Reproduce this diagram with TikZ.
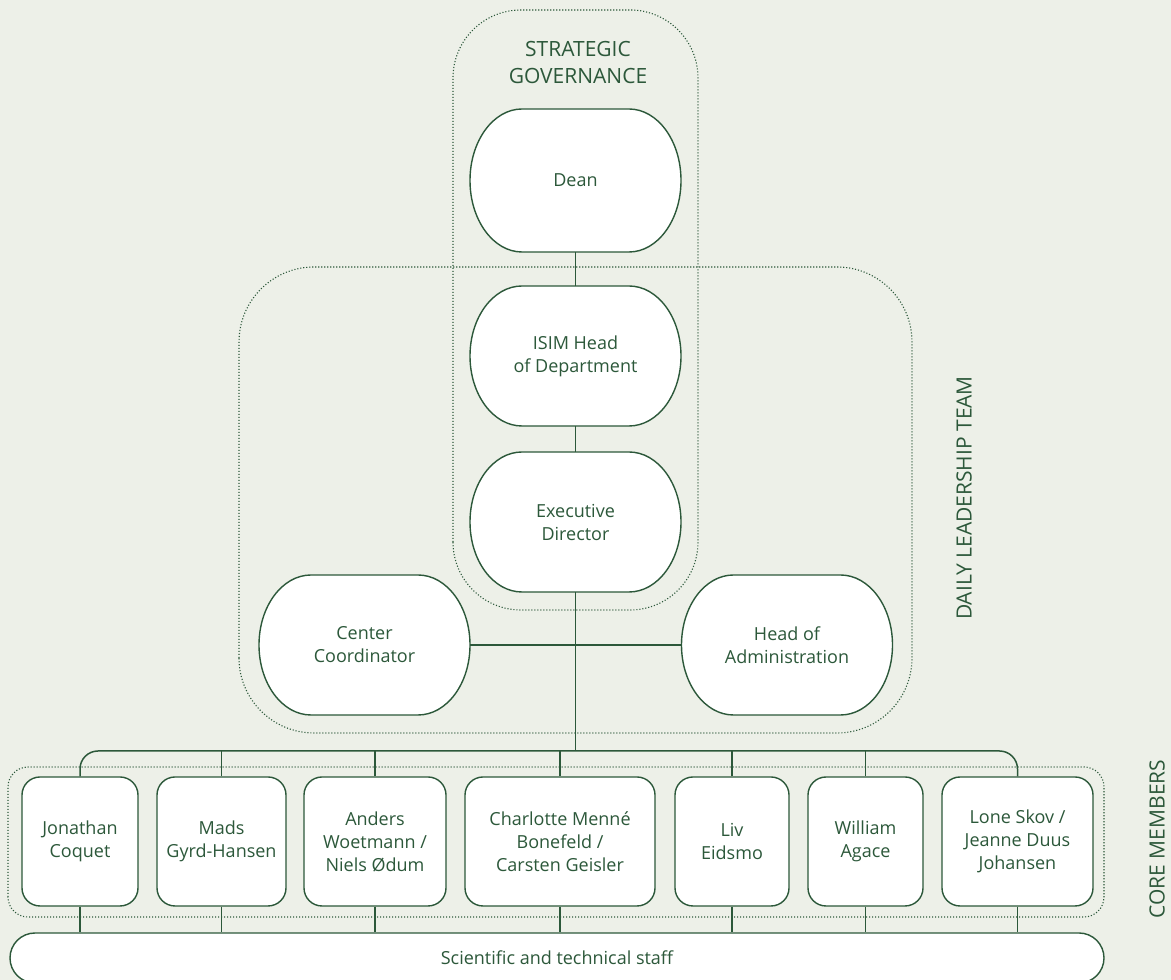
\documentclass[tikz,border=0pt]{standalone}
\usepackage{fontspec}
\setmainfont{Open Sans}
\definecolor{ln}{HTML}{2C583A}
\definecolor{bg}{HTML}{EDF0E8}
\tikzset{
  x=1pt,y=1pt,
  conn/.style={draw=ln,line width=1.5pt},
  shapeline/.style={draw=ln,line width=1.4pt,fill=white},
  grp/.style={draw=ln,line width=1.1pt,dash pattern=on 1.1pt off 1.9pt},
  txt/.style={text=ln,font=\fontsize{18}{23}\selectfont,align=center,inner sep=0pt},
  member/.style={shapeline,txt,rounded corners=18,minimum height=129},
  title/.style={text=ln,font=\fontsize{21}{27}\selectfont,align=center,inner sep=0pt}
}
\newcommand\ovalnode[5]{%
  \draw[shapeline] ({#2-53.5},{#3+#4/2}) -- ({#2+53.5},{#3+#4/2})
    arc[start angle=90,end angle=-90,x radius=52,y radius=#4/2]
    -- ({#2-53.5},{#3-#4/2})
    arc[start angle=270,end angle=90,x radius=52,y radius=#4/2] -- cycle;
  \node[txt,minimum width=211,minimum height=#4] (#1) at (#2,#3) {#5};}
\begin{document}
\begin{tikzpicture}
\useasboundingbox (0,0) rectangle (1171,980);
\clip (0,0) rectangle (1171,980);
\fill[bg] (0,0) rectangle (1171,980);
% group frames
\draw[grp,rounded corners=68] (453,370) rectangle (698,970);
\draw[grp,rounded corners=75] (239,247) rectangle (912,713);
\draw[grp,rounded corners=20] (8,63) rectangle (1104,213);
% titles
\node[title] (tsg) at (578,917.5) {STRATEGIC\\GOVERNANCE};
\node[title,rotate=90] (tdl) at (964,482) {DAILY LEADERSHIP TEAM};
\node[title,rotate=90] (tcm) at (1157,141) {CORE MEMBERS};
% bus coordinate
\coordinate (bus) at (0,229);
% oval nodes
\ovalnode{dean}{575.5}{799.5}{143}{Dean}
\ovalnode{isim}{575.5}{624}{140}{ISIM Head\\of Department}
\ovalnode{exec}{575.5}{458}{140}{Executive\\Director}
\ovalnode{cc}{364.5}{335}{140}{Center\\Coordinator}
\ovalnode{ha}{787}{335}{140}{Head of\\Administration}
% members
\node[member,minimum width=116] (jon) at (80,138.5) {Jonathan\\Coquet};
\node[member,minimum width=129] (mads) at (221.5,138.5) {Mads\\Gyrd-Hansen};
\node[member,minimum width=142] (anders) at (375,138.5) {Anders\\Woetmann /\\Niels Ødum};
\node[member,minimum width=190] (charl) at (560,138.5) {Charlotte Menné\\Bonefeld /\\Carsten Geisler};
\node[member,minimum width=114] (liv) at (732,138.5) {Liv\\Eidsmo};
\node[member,minimum width=115] (will) at (865.5,138.5) {William\\Agace};
\node[member,minimum width=151] (lone) at (1017.5,138.5) {Lone Skov /\\Jeanne Duus\\Johansen};
% staff bar
\node[shapeline,txt,rounded corners=25,minimum width=1094,minimum height=50] (staff) at (557,22) {Scientific and technical staff};
% connectors
\draw[conn] (dean) -- (isim);
\draw[conn] (isim) -- (exec);
\draw[conn] (cc) -- (ha);
\draw[conn] (exec.south) -- (exec.south |- bus);
\draw[conn,rounded corners=18] (jon.north) -- (jon.north |- bus) -- (lone.north |- bus) -- (lone.north);
\foreach \m in {mads,anders,charl,liv,will}{
  \draw[conn] (\m.north) -- (\m.north |- bus);
}
\foreach \m in {jon,mads,anders,charl,liv,will,lone}{
  \draw[conn] (\m.south) -- (\m.south |- staff.north);
}
\end{tikzpicture}
\end{document}
